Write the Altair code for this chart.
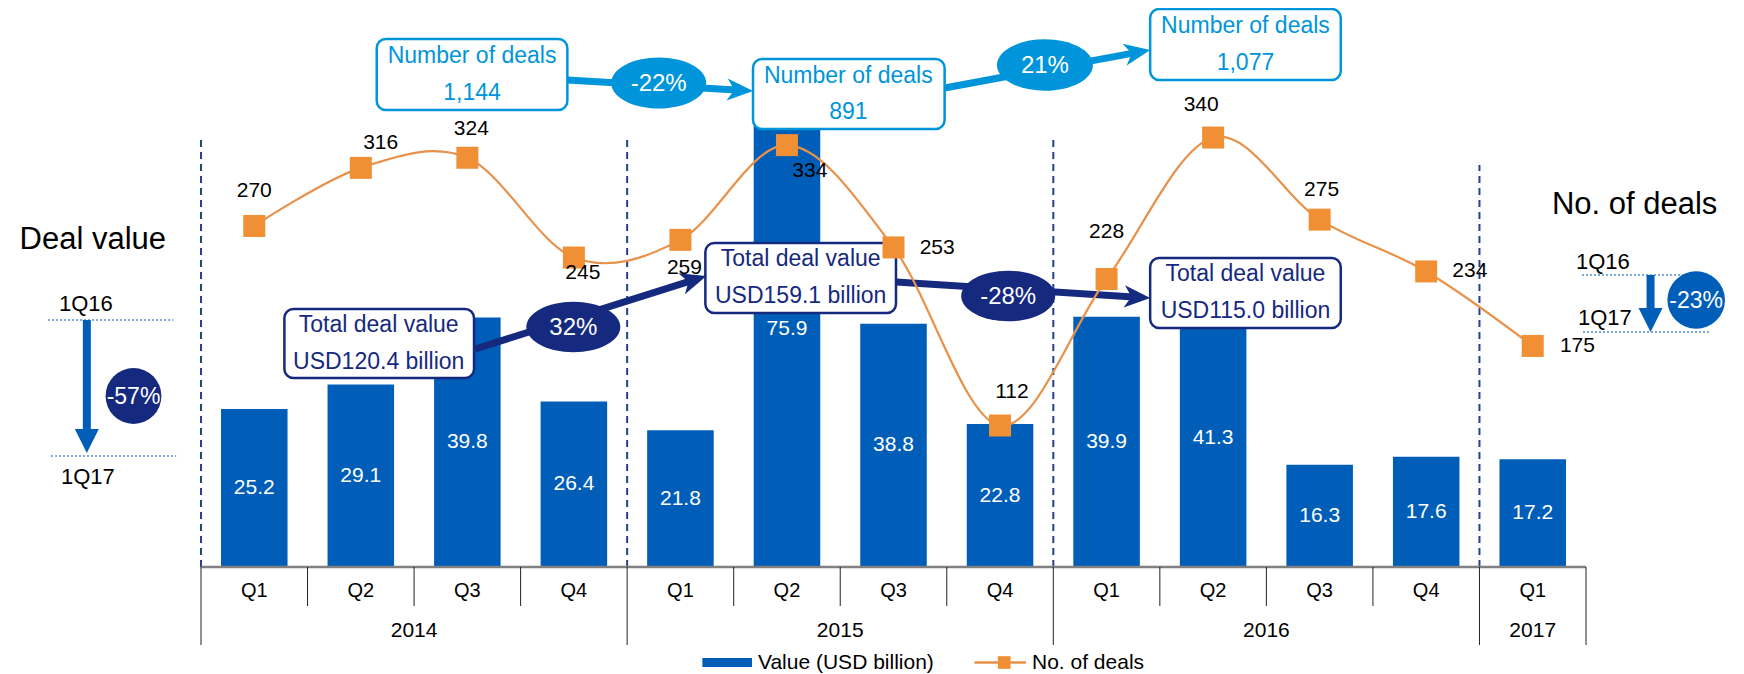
import math
import altair as alt
import pandas as pd

# ---------------- data ----------------
quarters = ["Q1", "Q2", "Q3", "Q4", "Q1", "Q2", "Q3", "Q4", "Q1", "Q2", "Q3", "Q4", "Q1"]
years = ["2014", "2014", "2014", "2014", "2015", "2015", "2015", "2015",
         "2016", "2016", "2016", "2016", "2017"]
deal_value = [25.2, 29.1, 39.8, 26.4, 21.8, 75.9, 38.8, 22.8, 39.9, 41.3, 16.3, 17.6, 17.2]
deal_count = [270, 316, 324, 245, 259, 334, 253, 112, 228, 340, 275, 234, 175]
annual_deals = ["1,144", "891", "1,077"]
annual_values = ["USD120.4 billion", "USD159.1 billion", "USD115.0 billion"]
deals_change = ["-22%", "21%"]
value_change = ["32%", "-28%"]
q1_value_change = "-57%"
q1_deals_change = "-23%"
legend_labels = ["Value (USD billion)", "No. of deals"]

# ---------------- style / layout ----------------
BLUE = "#005EB8"
NAVY = "#15297F"
LBLUE = "#0095DA"
DASHC = "#27408B"
ORANGE = "#F18F34"
ORANGE_LINE = "#E8914A"
DOT = "#4A8FD8"
FONT = "Liberation Sans"

W, H = 1395, 506
PAD = {"left": 188, "top": 53, "right": 145, "bottom": 107}
X0 = 8 + PAD["left"]          # page x of plot left
Y0 = 8 + PAD["top"] + H       # page y of baseline
N = len(quarters)
SX = W / N
VMAX, CMAX = 80.7, 400.6
SV, SC = H / VMAX, H / CMAX


def gx(px):
    return (px - X0) / SX


def gy(py):
    return (Y0 - py) / SV


XS = alt.Scale(domain=[0, N], nice=False, zero=False)
YS = alt.Scale(domain=[0, VMAX], nice=False, zero=False)
CS = alt.Scale(domain=[0, CMAX], nice=False, zero=False)


def ex(f):
    return alt.X(f + ":Q", scale=XS, axis=None)


def ey(f, s=YS):
    return alt.Y(f + ":Q", scale=s, axis=None)


# label offsets (px) for the deal-count labels
count_label_offset = [(0, -35), (20, -25), (4, -29), (9, 15), (4, 28), (23, 26), (44, 1),
                      (12, -34), (0, -47), (-12, -33), (2, -30), (44, 0), (45, 0)]
dash_top_px = [139, 140, 137, 165]

df = pd.DataFrame({"quarter": quarters, "year": years, "value": deal_value, "deals": deal_count})
df["xc"] = [i + 0.5 for i in range(N)]

# ---------------- bars ----------------
bars = alt.Chart(df).mark_bar(size=0.62 * SX, color=BLUE).encode(
    x=ex("xc"), y=ey("value"), y2=alt.datum(0)
)
bar_labels = alt.Chart(df).transform_calculate(mid="datum.value / 2").mark_text(
    color="white", fontSize=21, font=FONT, baseline="middle"
).encode(x=ex("xc"), y=ey("mid"), text=alt.Text("value:Q", format=".1f"))

# ---------------- year dashed rules & category axis ----------------
bounds = [0] + [i for i in range(1, N) if years[i] != years[i - 1]]
year_bounds = bounds + [N]
dash_df = pd.DataFrame({"x": bounds, "y0": [0.0] * len(bounds),
                        "y1": [gy(p) for p in dash_top_px]})
dashes = alt.Chart(dash_df).mark_rule(color=DASHC, strokeWidth=2, strokeDash=[7, 5]).encode(
    x=ex("x"), y=ey("y0"), y2=alt.Y2("y1")
)

sep_df = pd.DataFrame({"x": list(range(N + 1))})
sep_df["yt"] = 0.0
sep_df["yb"] = [gy(645) if b in year_bounds else gy(606) for b in range(N + 1)]
seps = alt.Chart(sep_df).mark_rule(color="#222222", strokeWidth=1).encode(
    x=ex("x"), y=ey("yt"), y2=alt.Y2("yb")
)
base_df = pd.DataFrame({"x": [0], "x2": [N], "y": [0.0]})
baseline = alt.Chart(base_df).mark_rule(color="#808080", strokeWidth=2.5).encode(
    x=ex("x"), x2=alt.X2("x2"), y=ey("y")
)
qlab_df = df[["quarter", "xc"]].copy()
qlab_df["ly"] = gy(591)
qlabels = alt.Chart(qlab_df).mark_text(fontSize=20, font=FONT, color="black", baseline="middle").encode(
    x=ex("xc"), y=ey("ly"), text="quarter:N"
)
yl = []
for i, b in enumerate(bounds):
    e = year_bounds[i + 1]
    yl.append({"year": years[b], "x": (b + e) / 2, "y": gy(631)})
ylabels = alt.Chart(pd.DataFrame(yl)).mark_text(fontSize=21, font=FONT, color="black", baseline="middle").encode(
    x=ex("x"), y=ey("y"), text="year:N"
)

# ---------------- annotations ----------------
box_px = [
    (373, 565, 39, 110, LBLUE), (752, 945, 59, 129, LBLUE), (1152, 1344, 9, 80, LBLUE),
    (280, 471, 309, 378, NAVY), (704, 896, 243, 313, NAVY), (1152, 1344, 258, 328, NAVY),
]
box_df = pd.DataFrame([{"x": gx(a), "x2": gx(b), "y": gy(c), "y2": gy(d), "col": col}
                       for a, b, c, d, col in box_px])
boxes = alt.Chart(box_df).mark_rect(fill="white", strokeWidth=2.5, cornerRadius=9).encode(
    x=ex("x"), x2=alt.X2("x2"), y=ey("y"), y2=alt.Y2("y2"),
    stroke=alt.Stroke("col:N", scale=None)
)

# dotted reference lines (1Q16 / 1Q17)
dot_px = [(42, 168, 320), (45, 171, 456), (1587, 1715, 275), (1588, 1716, 332)]
dot_df = pd.DataFrame([{"x": gx(a), "x2": gx(b), "y": gy(c)} for a, b, c in dot_px])
dots = alt.Chart(dot_df).mark_rule(color=DOT, strokeWidth=1.3, strokeDash=[2, 2]).encode(
    x=ex("x"), x2=alt.X2("x2"), y=ey("y")
)

# arrows
STEALTH = "M1,0L-1,-0.85L-0.45,0L-1,0.85Z"
TRI = "M1,0L-1,-1L-1,1Z"
arrow_px = [
    ((565, 80), (752, 91), LBLUE, 7, 26, "s"),
    ((945, 88), (1152, 50), LBLUE, 7, 26, "s"),
    ((472, 349), (705, 276), NAVY, 7, 26, "s"),
    ((896, 282), (1152, 298), NAVY, 7, 26, "s"),
    ((81, 320), (81, 453), BLUE, 8, 24, "t"),
    ((1656, 275), (1656, 332), BLUE, 8, 24, "t"),
]
shafts, heads_s, heads_t = [], [], []
for (sx, sy), (tx, ty), col, sw, L, kind in arrow_px:
    dx, dy = tx - sx, ty - sy
    d = math.hypot(dx, dy)
    ux, uy = dx / d, dy / d
    cx, cy = tx - ux * L / 2, ty - uy * L / 2
    ang = math.degrees(math.atan2(dy, dx)) % 360
    shafts.append({"x": gx(sx), "y": gy(sy), "x2": gx(cx), "y2": gy(cy), "col": col, "sw": sw})
    rec = {"x": gx(cx), "y": gy(cy), "ang": ang, "col": col, "sz": L * L}
    (heads_s if kind == "s" else heads_t).append(rec)

shaft_layer = alt.Chart(pd.DataFrame(shafts)).mark_rule().encode(
    x=ex("x"), y=ey("y"), x2=alt.X2("x2"), y2=alt.Y2("y2"),
    color=alt.Color("col:N", scale=None), strokeWidth=alt.StrokeWidth("sw:Q", scale=None)
)


def head_layer(rows, shape):
    return alt.Chart(pd.DataFrame(rows)).mark_point(shape=shape, filled=True, opacity=1).encode(
        x=ex("x"), y=ey("y"), angle=alt.Angle("ang:Q", scale=None),
        color=alt.Color("col:N", scale=None), size=alt.Size("sz:Q", scale=None)
    )


heads1 = head_layer(heads_s, STEALTH)
heads2 = head_layer(heads_t, TRI)

# ellipses with percentages
ELL = "M-1,0A1,0.537,0,1,0,1,0A1,0.537,0,1,0,-1,0Z"
ell_px = [(657, 83, 95, LBLUE), (1046, 65, 96, LBLUE), (571, 327, 94, NAVY), (1009, 296, 94, NAVY)]
ell_df = pd.DataFrame([{"x": gx(a), "y": gy(b), "sz": w * w, "col": c} for a, b, w, c in ell_px])
ellipses = alt.Chart(ell_df).mark_point(shape=ELL, filled=True, opacity=1).encode(
    x=ex("x"), y=ey("y"), size=alt.Size("sz:Q", scale=None), color=alt.Color("col:N", scale=None)
)
circ_px = [(128, 396, 63, NAVY), (1702, 300, 65, BLUE)]
circ_df = pd.DataFrame([{"x": gx(a), "y": gy(b), "sz": math.pi * (dd / 2) ** 2, "col": c}
                        for a, b, dd, c in circ_px])
circles = alt.Chart(circ_df).mark_point(shape="circle", filled=True, opacity=1).encode(
    x=ex("x"), y=ey("y"), size=alt.Size("sz:Q", scale=None), color=alt.Color("col:N", scale=None)
)

# texts (centred, middle baseline)
txt = [
    ("Number of deals", 469, 56, LBLUE, 23), (annual_deals[0], 469, 93, LBLUE, 23),
    ("Number of deals", 848, 76, LBLUE, 23), (annual_deals[1], 848, 112, LBLUE, 23),
    ("Number of deals", 1248, 26, LBLUE, 23), (annual_deals[2], 1248, 63, LBLUE, 23),
    ("Total deal value", 375, 325, NAVY, 23), (annual_values[0], 375, 362, NAVY, 23),
    ("Total deal value", 800, 259, NAVY, 23), (annual_values[1], 800, 296, NAVY, 23),
    ("Total deal value", 1248, 274, NAVY, 23), (annual_values[2], 1248, 311, NAVY, 23),
    ("Deal value", 87, 240, "black", 31), ("No. of deals", 1640, 205, "black", 31),
    ("1Q16", 80, 304, "black", 22), ("1Q17", 82, 477, "black", 22),
    ("1Q16", 1608, 262, "black", 22), ("1Q17", 1610, 318, "black", 22),
    (deals_change[0], 657, 84, "white", 24), (deals_change[1], 1046, 66, "white", 24),
    (value_change[0], 571, 328, "white", 24), (value_change[1], 1009, 297, "white", 24),
    (q1_value_change, 128, 397, "white", 23), (q1_deals_change, 1702, 301, "white", 23),
]
txt_df = pd.DataFrame([{"t": t, "x": gx(a), "y": gy(b), "col": c, "fs": s} for t, a, b, c, s in txt])
texts = alt.Chart(txt_df).mark_text(font=FONT, baseline="middle", align="center").encode(
    x=ex("x"), y=ey("y"), text="t:N",
    color=alt.Color("col:N", scale=None), size=alt.Size("fs:Q", scale=None)
)

# legend (left-aligned texts on an alphabetic baseline)
leg_txt_df = pd.DataFrame({"t": legend_labels, "x": [gx(757), gx(1033)], "y": [gy(669), gy(669)]})
leg_texts = alt.Chart(leg_txt_df).mark_text(font=FONT, fontSize=21, align="left", baseline="alphabetic",
                                             color="black").encode(x=ex("x"), y=ey("y"), text="t:N")
leg_rect = alt.Chart(pd.DataFrame({"x": [gx(701)], "x2": [gx(751)], "y": [gy(658)], "y2": [gy(667)]})).mark_rect(
    color=BLUE).encode(x=ex("x"), x2=alt.X2("x2"), y=ey("y"), y2=alt.Y2("y2"))
leg_line = alt.Chart(pd.DataFrame({"x": [gx(975)], "x2": [gx(1027)], "y": [gy(662.5)]})).mark_rule(
    color=ORANGE_LINE, strokeWidth=2.5).encode(x=ex("x"), x2=alt.X2("x2"), y=ey("y"))
leg_pt = alt.Chart(pd.DataFrame({"x": [gx(1005)], "y": [gy(662.5)]})).mark_point(
    shape="square", filled=True, size=160, color=ORANGE, opacity=1).encode(x=ex("x"), y=ey("y"))

inner = alt.layer(dashes, bars, bar_labels, baseline, seps, qlabels, ylabels, dots,
                  shaft_layer, boxes, ellipses, circles, heads1, heads2, texts,
                  leg_rect, leg_line, leg_pt, leg_texts)

# ---------------- deal count line ----------------
cl = df[["xc", "deals"]].copy()
cl["lx"] = [x + o[0] / SX for x, o in zip(cl["xc"], count_label_offset)]
cl["ly"] = [v - o[1] / SC for v, o in zip(cl["deals"], count_label_offset)]
line = alt.Chart(df).mark_line(interpolate="cardinal", tension=0, color=ORANGE_LINE, strokeWidth=2.2).encode(
    x=ex("xc"), y=ey("deals", CS)
)
pts = alt.Chart(df).mark_point(shape="square", filled=True, size=484, color=ORANGE, opacity=1).encode(
    x=ex("xc"), y=ey("deals", CS)
)
count_labels = alt.Chart(cl).mark_text(fontSize=21, font=FONT, color="black", baseline="middle").encode(
    x=ex("lx"), y=ey("ly", CS), text=alt.Text("deals:Q", format="d")
)
count_layer = alt.layer(line, pts, count_labels)

chart = alt.layer(inner, count_layer).resolve_scale(y="independent").properties(
    width=W, height=H, padding=PAD, autosize=alt.AutoSizeParams(type="none"),
    background="white"
).configure_view(stroke=None).configure_text(font=FONT)

chart.save("out.html", embed_options={"renderer": "svg", "actions": False})
